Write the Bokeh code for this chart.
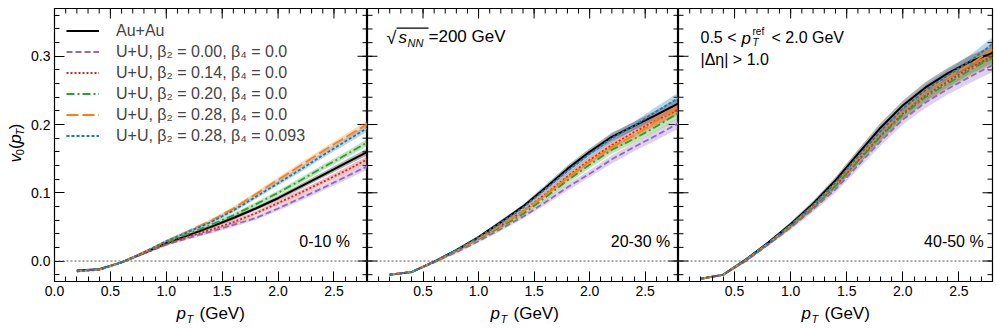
import math
from bokeh.plotting import figure
from bokeh.layouts import row, column
from bokeh.models import (Range1d, FixedTicker, Span, Label, Legend, LegendItem,
                          NumeralTickFormatter, BoxAnnotation)
from bokeh.core.properties import value
from bokeh.embed import file_html
from bokeh.resources import INLINE

FONT = "Liberation Sans"

# ---------------- data ----------------
pt = [0.2, 0.4, 0.6, 0.8, 1.0, 1.2, 1.4, 1.6, 1.8, 2.0, 2.2, 2.4, 2.6, 2.8]

series_labels = ["Au+Au",
                 "U+U, β₂ = 0.00, β₄ = 0.0",
                 "U+U, β₂ = 0.14, β₄ = 0.0",
                 "U+U, β₂ = 0.20, β₄ = 0.0",
                 "U+U, β₂ = 0.28, β₄ = 0.0",
                 "U+U, β₂ = 0.28, β₄ = 0.093"]
series_colors = ["black", "#9467bd", "#d62728", "#2ca02c", "#ff7f0e", "#1f77b4"]
series_dashes = ["solid", "6 3", "2 2", "8 3 2 3", "12 4", "3 2"]

centralities = ["0-10 %", "20-30 %", "40-50 %"]

# 0-10 %
auau_0_10   = [-0.014, -0.012, -0.002, 0.012, 0.026, 0.038, 0.050, 0.063, 0.077, 0.092, 0.109, 0.126, 0.143, 0.160]
uu00_0_10   = [-0.014, -0.012, -0.002, 0.011, 0.024, 0.034, 0.043, 0.053, 0.063, 0.077, 0.092, 0.107, 0.123, 0.139]
uu14_0_10   = [-0.014, -0.012, -0.002, 0.011, 0.025, 0.036, 0.046, 0.057, 0.070, 0.085, 0.100, 0.116, 0.132, 0.149]
uu20_0_10   = [-0.015, -0.012, -0.002, 0.012, 0.027, 0.040, 0.053, 0.067, 0.083, 0.100, 0.118, 0.137, 0.155, 0.174]
uu28_0_10   = [-0.015, -0.013, -0.002, 0.013, 0.029, 0.044, 0.059, 0.077, 0.098, 0.119, 0.140, 0.161, 0.181, 0.201]
uu28b4_0_10 = [-0.015, -0.013, -0.002, 0.013, 0.029, 0.043, 0.057, 0.074, 0.094, 0.114, 0.134, 0.155, 0.175, 0.195]
err_0_10    = [0.001, 0.001, 0.001, 0.0015, 0.002, 0.002, 0.0025, 0.003, 0.003, 0.0035, 0.004, 0.004, 0.0045, 0.005]

# 20-30 %
auau_20_30   = [-0.020, -0.016, -0.001, 0.016, 0.035, 0.057, 0.080, 0.107, 0.135, 0.160, 0.182, 0.198, 0.214, 0.231]
uu00_20_30   = [-0.020, -0.016, -0.002, 0.013, 0.029, 0.047, 0.065, 0.086, 0.108, 0.128, 0.149, 0.167, 0.184, 0.202]
uu14_20_30   = [-0.020, -0.016, -0.001, 0.015, 0.033, 0.052, 0.073, 0.098, 0.124, 0.148, 0.170, 0.189, 0.206, 0.222]
uu20_20_30   = [-0.020, -0.016, -0.001, 0.015, 0.032, 0.050, 0.069, 0.093, 0.118, 0.141, 0.163, 0.179, 0.197, 0.217]
uu28_20_30   = [-0.020, -0.016, -0.001, 0.015, 0.033, 0.052, 0.073, 0.097, 0.122, 0.146, 0.167, 0.184, 0.205, 0.225]
uu28b4_20_30 = [-0.020, -0.016, -0.001, 0.016, 0.035, 0.056, 0.078, 0.105, 0.132, 0.157, 0.180, 0.198, 0.219, 0.239]
err_20_30    = [0.001, 0.001, 0.0015, 0.002, 0.002, 0.003, 0.003, 0.004, 0.005, 0.005, 0.006, 0.006, 0.007, 0.008]

# 40-50 %
auau_40_50   = [-0.026, -0.020, 0.002, 0.027, 0.054, 0.084, 0.118, 0.157, 0.195, 0.228, 0.254, 0.275, 0.292, 0.305]
uu00_40_50   = [-0.026, -0.020, 0.000, 0.024, 0.049, 0.076, 0.105, 0.140, 0.175, 0.207, 0.232, 0.252, 0.270, 0.287]
uu14_40_50   = [-0.026, -0.020, 0.001, 0.025, 0.051, 0.079, 0.110, 0.147, 0.183, 0.216, 0.242, 0.263, 0.283, 0.300]
uu20_40_50   = [-0.026, -0.020, 0.001, 0.025, 0.051, 0.079, 0.110, 0.146, 0.182, 0.214, 0.240, 0.260, 0.280, 0.298]
uu28_40_50   = [-0.026, -0.020, 0.002, 0.026, 0.052, 0.081, 0.114, 0.151, 0.188, 0.221, 0.248, 0.269, 0.288, 0.310]
uu28b4_40_50 = [-0.026, -0.020, 0.002, 0.026, 0.053, 0.082, 0.115, 0.153, 0.190, 0.223, 0.250, 0.272, 0.293, 0.318]
err_40_50    = [0.001, 0.001, 0.002, 0.002, 0.003, 0.004, 0.005, 0.006, 0.007, 0.007, 0.008, 0.008, 0.009, 0.010]

panels = [
    [auau_0_10, uu00_0_10, uu14_0_10, uu20_0_10, uu28_0_10, uu28b4_0_10],
    [auau_20_30, uu00_20_30, uu14_20_30, uu20_20_30, uu28_20_30, uu28b4_20_30],
    [auau_40_50, uu00_40_50, uu14_40_50, uu20_40_50, uu28_40_50, uu28b4_40_50],
]
panel_errs = [err_0_10, err_20_30, err_40_50]

x_major_first = [0.0, 0.5, 1.0, 1.5, 2.0, 2.5]
x_major_other = [0.5, 1.0, 1.5, 2.0, 2.5]
x_minor = [round(0.1 * i, 2) for i in range(29)]
y_major = [0.0, 0.1, 0.2, 0.3]
y_minor = [round(-0.02 + 0.02 * i, 2) for i in range(20)]
X_MIN, X_MAX = 0.0, 2.8
Y_MIN, Y_MAX = -0.03, 0.37

# ---------------- layout (canvas px) ----------------
YLAB_W = 28
FRAME_LEFT = [53, 367, 678]
FRAME_W = [314, 311, 314]
FRAME_TOP = 8
FRAME_BOTTOM = 281
BOTTOM_BORDER = 22
PLOT_H = FRAME_BOTTOM + BOTTOM_BORDER        # 303
XLAB_H = 25
TOTAL_W = 996
MAJ, MIN = 10, 5


def style_axis(ax):
    ax.axis_line_color = None
    ax.major_tick_in = MAJ
    ax.major_tick_out = 0
    ax.minor_tick_in = MIN
    ax.minor_tick_out = 0
    ax.major_tick_line_color = "black"
    ax.minor_tick_line_color = "black"
    ax.major_label_text_font = FONT
    ax.major_label_text_font_size = "14px"
    ax.major_label_standoff = 4
    ax.major_label_text_color = "black"
    ax.formatter = NumeralTickFormatter(format="0.0")


def put(p, fl, px, py, text, size=16, style="normal"):
    p.add_layout(Label(x=px - fl, y=FRAME_BOTTOM - py, x_units="screen", y_units="screen",
                       text=text, text_font=FONT, text_font_size=f"{size}px",
                       text_font_style=style, text_align="left", text_baseline="middle",
                       text_color="black"))


def ticks_rays(p, xs, ys, length, angle):
    p.ray(x=xs, y=ys, length=length, length_units="screen", angle=angle,
          line_color="black", line_width=1)


figs = []
for i in range(3):
    first = (i == 0)
    left_border = FRAME_LEFT[0] - YLAB_W if first else 0
    right_border = TOTAL_W - (FRAME_LEFT[2] + FRAME_W[2]) if i == 2 else 0
    w = FRAME_W[i] + left_border + right_border
    p = figure(width=w, height=PLOT_H, x_range=Range1d(X_MIN, X_MAX),
               y_range=Range1d(Y_MIN, Y_MAX), output_backend="svg", toolbar_location=None,
               y_axis_location="left" if first else None,
               min_border_left=left_border, min_border_right=right_border,
               min_border_top=FRAME_TOP, min_border_bottom=BOTTOM_BORDER)
    p.xgrid.visible = False
    p.ygrid.visible = False
    p.outline_line_color = "black"
    p.outline_line_width = 1.2
    p.background_fill_color = "white"
    p.border_fill_color = "white"

    p.xaxis.ticker = FixedTicker(ticks=x_major_first if first else x_major_other,
                                 minor_ticks=x_minor)
    style_axis(p.xaxis[0])
    if first:
        p.yaxis.ticker = FixedTicker(ticks=y_major, minor_ticks=y_minor)
        style_axis(p.yaxis[0])
    else:
        ticks_rays(p, [X_MIN] * len(y_minor), y_minor, MIN, 0.0)
        ticks_rays(p, [X_MIN] * len(y_major), y_major, MAJ, 0.0)
    # mirrored ticks on the right and top
    ticks_rays(p, [X_MAX] * len(y_minor), y_minor, MIN, math.pi)
    ticks_rays(p, [X_MAX] * len(y_major), y_major, MAJ, math.pi)
    ticks_rays(p, x_minor, [Y_MAX] * len(x_minor), MIN, -math.pi / 2)
    ticks_rays(p, x_major_first, [Y_MAX] * len(x_major_first), MAJ, -math.pi / 2)

    p.add_layout(Span(location=0, dimension="width", line_color="#555555",
                      line_dash="2 2", line_width=1))

    data = panels[i]
    err = panel_errs[i]
    for k, v in enumerate(data):
        lo = [a - e for a, e in zip(v, err)]
        hi = [a + e for a, e in zip(v, err)]
        p.varea(x=pt, y1=lo, y2=hi, fill_color=series_colors[k], fill_alpha=0.3)
    rends = []
    for k, v in enumerate(data):
        r = p.line(pt, v, line_color=series_colors[k], line_width=2 if k == 0 else 1.8,
                   line_dash=series_dashes[k])
        rends.append(r)

    if first:
        items = [LegendItem(label=series_labels[k], renderers=[rends[k]]) for k in range(6)]
        leg = Legend(items=items, location="top_left", border_line_alpha=0,
                     background_fill_alpha=0, label_text_font=FONT,
                     label_text_font_size="16px", glyph_width=33, glyph_height=21,
                     label_height=21, spacing=0, padding=12, margin=0, label_standoff=17)
        p.add_layout(leg)

    p.add_layout(Label(x=2.19, y=0.028, text=centralities[i], text_font=FONT,
                       text_font_size="16px", text_baseline="middle", text_align="left",
                       text_color="black"))

    fl = FRAME_LEFT[i]
    if i == 1:
        put(p, fl, 386, 37, "√", 18)
        # radical overbar
        p.add_layout(BoxAnnotation(left=396 - fl, right=428 - fl,
                                   top=FRAME_BOTTOM - 27, bottom=FRAME_BOTTOM - 28.2,
                                   left_units="screen", right_units="screen",
                                   top_units="screen", bottom_units="screen",
                                   fill_color="black", fill_alpha=1.0, line_color=None))
        put(p, fl, 398, 37, "s", 17, "italic")
        put(p, fl, 407, 42, "NN", 11, "italic")
        put(p, fl, 428, 36, "=200 GeV", 17)
    if i == 2:
        put(p, fl, 700, 37, "0.5 <", 16)
        put(p, fl, 741, 38, "p", 17, "italic")
        put(p, fl, 752, 31, "ref", 10)
        put(p, fl, 752, 42, "T", 10, "italic")
        put(p, fl, 771, 37, "< 2.0 GeV", 16)
        put(p, fl, 700, 59, "|Δη| > 1.0", 16)

    figs.append(p)


def blank(width, height, xr, yr):
    f = figure(width=width, height=height, x_range=xr, y_range=yr, output_backend="svg",
               toolbar_location=None, x_axis_location=None, y_axis_location=None,
               min_border=0)
    f.xgrid.visible = False
    f.ygrid.visible = False
    f.outline_line_color = None
    f.border_fill_color = "white"
    f.background_fill_color = "white"
    return f


def txt(f, x, y, t, size, style="normal", angle=0.0):
    f.text(x=[x], y=[y], text=[t], text_font=value(FONT), text_font_size=value(f"{size}px"),
           text_font_style=value(style), text_align=value("left"),
           text_baseline=value("middle"), text_color="black", angle=angle)


# y-axis title  v0(pT)  (canvas coordinates)
ylab = blank(YLAB_W, PLOT_H, Range1d(0, YLAB_W), Range1d(PLOT_H, 0))
a = math.pi / 2
txt(ylab, 15, 171, "v", 17, "italic", a)
txt(ylab, 19, 163, "0", 11, "normal", a)
txt(ylab, 15, 156, "(", 17, "normal", a)
txt(ylab, 15, 150, "p", 17, "italic", a)
txt(ylab, 19, 141, "T", 11, "italic", a)
txt(ylab, 15, 134, ")", 17, "normal", a)

# x-axis titles  pT (GeV)  (canvas coordinates)
xlab = blank(TOTAL_W, XLAB_H, Range1d(0, TOTAL_W), Range1d(PLOT_H + XLAB_H, PLOT_H))
for fl in FRAME_LEFT:
    txt(xlab, fl + 123, 313, "p", 17, "italic")
    txt(xlab, fl + 133, 318, "T", 11, "italic")
    txt(xlab, fl + 146, 313, "(GeV)", 17)

layout = column(row(ylab, *figs), xlab)
open("out.html", "w").write(file_html(layout, INLINE))
